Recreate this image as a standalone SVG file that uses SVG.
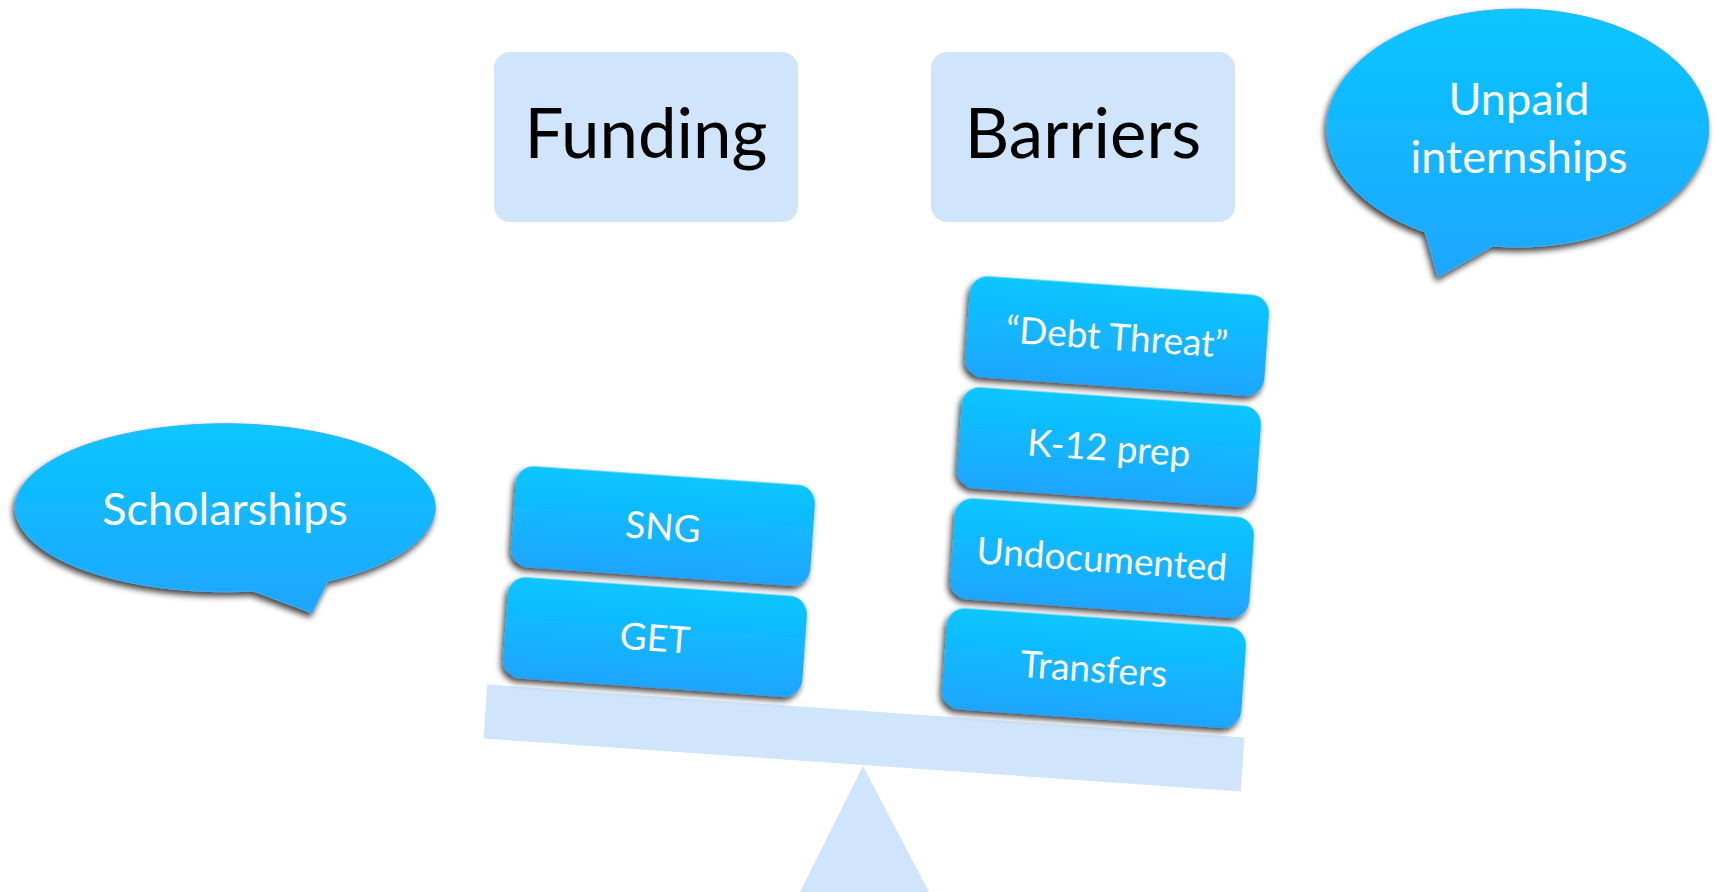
<svg xmlns="http://www.w3.org/2000/svg" width="1719" height="892" viewBox="0 0 1719 892">
<defs>
<linearGradient id="blue" x1="0" y1="0" x2="0" y2="1">
<stop offset="0" stop-color="#08C6FF"/>
<stop offset="1" stop-color="#1FA5FF"/>
</linearGradient>
<filter id="shadow" x="-10%" y="-20%" width="120%" height="145%">
<feDropShadow dx="-2" dy="4" stdDeviation="3" flood-color="#000" flood-opacity="0.75"/>
</filter>
<style>
.pale{fill:#D0E5FB;}
.block{fill:url(#blue);filter:url(#shadow);}
.bubble{fill:url(#blue);stroke:#3AAEF5;stroke-width:1;filter:url(#shadow);}
.head{font-family:Lato,"Liberation Sans",sans-serif;font-size:69px;fill:#000;text-anchor:middle;}
.lbl{font-family:Lato,"Liberation Sans",sans-serif;font-size:37px;fill:#fff;text-anchor:middle;}
.blbl{font-family:Lato,"Liberation Sans",sans-serif;font-size:45px;fill:#fff;text-anchor:middle;}
</style>
</defs>
<rect width="1719" height="892" fill="#fff"/>

<g id="scale">
<polygon class="pale" points="863,766 800,892 929,892"/>
<rect class="pale" x="-379.5" y="-27" width="759" height="54" transform="translate(864,738) rotate(4)"/>
</g>

<g id="funding-box">
<rect class="pale" x="494" y="52" width="304" height="170" rx="16"/>
<text class="head" x="646" y="158">Funding</text>
</g>
<g id="barriers-box">
<rect class="pale" x="931" y="52" width="304" height="170" rx="16"/>
<text class="head" x="1083" y="158">Barriers</text>
</g>

<g id="sng" transform="translate(663,526) rotate(4)">
<rect class="block" x="-150" y="-50.5" width="300" height="101" rx="18"/>
<text class="lbl" x="0" y="14">SNG</text>
</g>
<g id="get" transform="translate(655,637) rotate(4)">
<rect class="block" x="-150" y="-50.5" width="300" height="101" rx="18"/>
<text class="lbl" x="0" y="14">GET</text>
</g>

<g id="debt-threat" transform="translate(1117,336) rotate(4)">
<rect class="block" x="-150" y="-50.5" width="300" height="101" rx="18"/>
<text class="lbl" x="0" y="14">“Debt Threat”</text>
</g>
<g id="k12-prep" transform="translate(1109,447) rotate(4)">
<rect class="block" x="-150" y="-50.5" width="300" height="101" rx="18"/>
<text class="lbl" x="0" y="14">K-12 prep</text>
</g>
<g id="undocumented" transform="translate(1102,558) rotate(4)">
<rect class="block" x="-150" y="-50.5" width="300" height="101" rx="18"/>
<text class="lbl" x="0" y="14">Undocumented</text>
</g>
<g id="transfers" transform="translate(1094,668) rotate(4)">
<rect class="block" x="-150" y="-50.5" width="300" height="101" rx="18"/>
<text class="lbl" x="0" y="14">Transfers</text>
</g>

<g id="scholarships">
<path class="bubble" d="M 253 591 A 210 84 0 1 1 328 581 L 312 613 Z"/>
<text class="blbl" x="225" y="525">Scholarships</text>
</g>
<g id="unpaid-internships">
<path class="bubble" d="M 1425 232 A 191 119 0 1 1 1493 246 L 1438 277 Z"/>
<text class="blbl" x="1519" y="115">Unpaid</text>
<text class="blbl" x="1519" y="173">internships</text>
</g>
</svg>
